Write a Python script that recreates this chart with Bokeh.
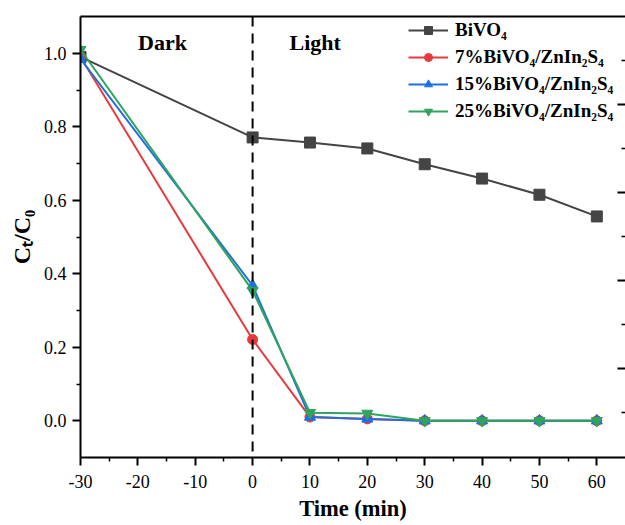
from bokeh.plotting import figure
from bokeh.models import (Span, Range1d, FixedTicker, PrintfTickFormatter, Legend,
                          LinearAxis, CustomJSTickFormatter)
from bokeh.core.properties import value
from bokeh.embed import file_html
from bokeh.resources import INLINE

time = [-30, 0, 10, 20, 30, 40, 50, 60]
bivo4 = [0.99, 0.771, 0.757, 0.741, 0.698, 0.659, 0.615, 0.556]
s7 = [0.99, 0.221, 0.010, 0.005, 0.0, 0.0, 0.0, 0.0]
s15 = [0.985, 0.368, 0.010, 0.005, 0.0, 0.0, 0.0, 0.0]
s25 = [1.01, 0.354, 0.022, 0.020, 0.0, 0.0, 0.0, 0.0]

labels = ["BiVO₄", "7%BiVO₄/ZnIn₂S₄", "15%BiVO₄/ZnIn₂S₄", "25%BiVO₄/ZnIn₂S₄"]
colors = ["#444444", "#e8393c", "#1f6fe3", "#2ea45c"]
x_ticks = [-30, -20, -10, 0, 10, 20, 30, 40, 50, 60]
x_minor = [-25, -15, -5, 5, 15, 25, 35, 45, 55]
y_ticks = [0.0, 0.2, 0.4, 0.6, 0.8, 1.0]
y_minor = [0.1, 0.3, 0.5, 0.7, 0.9]
# ticks of the neighbouring (cropped) axis seen at the right edge
r_ticks = [1, 2, 3, 4]
r_minor = [0.5, 1.5, 2.5, 3.5, 4.5]

FONT = "Liberation Serif"

p = figure(width=625, height=525, output_backend="svg", toolbar_location=None,
           x_range=Range1d(-30, 65), y_range=Range1d(-0.1, 1.1),
           min_border_left=80, min_border_right=0, min_border_top=16, min_border_bottom=68,
           title=None)
p.outline_line_color = None
p.xgrid.visible = False
p.ygrid.visible = False
p.background_fill_color = "white"
p.extra_y_ranges = {"r": Range1d(-0.01, 5.0)}

p.add_layout(Span(location=0, dimension="height", line_color="black",
                  line_dash="10 7", line_width=2))

series = [bivo4, s7, s15, s25]
markers = ["square", "circle", "triangle", "inverted_triangle"]
items = []
for ys, lab, c, m in zip(series, labels, colors, markers):
    l = p.line(time, ys, line_color=c, line_width=2)
    s = p.scatter(time, ys, marker=m, size=11 if m != "circle" else 10,
                  fill_color=c, line_color=c)
    items.append((lab, [l, s]))

leg = Legend(items=items, location=(328, 335))
leg.border_line_color = None
leg.background_fill_alpha = 0
leg.padding = 0
leg.margin = 0
leg.spacing = 5
leg.glyph_width = 40
leg.glyph_height = 20
leg.label_height = 20
leg.label_standoff = 7
leg.label_text_font = FONT
leg.label_text_font_style = "bold"
leg.label_text_font_size = "19px"
leg.label_text_color = "black"
p.add_layout(leg, "center")

p.text(x=[-15.7], y=[1.03], text=["Dark"], text_font=value(FONT), text_font_style="bold",
       text_font_size="22px", text_align="center", text_baseline="middle", text_color="black")
p.text(x=[10.9], y=[1.03], text=["Light"], text_font=value(FONT), text_font_style="bold",
       text_font_size="22px", text_align="center", text_baseline="middle", text_color="black")

xa = p.xaxis[0]
xa.ticker = FixedTicker(ticks=x_ticks, minor_ticks=x_minor)
xa.formatter = PrintfTickFormatter(format="%d")
xa.axis_label = "Time (min)"
ya = p.yaxis[0]
ya.ticker = FixedTicker(ticks=y_ticks, minor_ticks=y_minor)
ya.formatter = PrintfTickFormatter(format="%.1f")
ya.axis_label = "Cₜ/C₀"

for ax in (xa, ya):
    ax.axis_line_color = "black"
    ax.axis_line_width = 2
    ax.major_tick_line_color = "black"
    ax.minor_tick_line_color = "black"
    ax.major_tick_line_width = 2
    ax.minor_tick_line_width = 1.5
    ax.major_tick_out = 8
    ax.major_tick_in = 0
    ax.minor_tick_out = 4
    ax.minor_tick_in = 0
    ax.major_label_text_font = FONT
    ax.major_label_text_font_size = "18px"
    ax.major_label_text_color = "black"
    ax.axis_label_text_font = FONT
    ax.axis_label_text_font_style = "bold"
    ax.axis_label_text_color = "black"
xa.axis_label_text_font_size = "22.5px"
ya.axis_label_text_font_size = "24px"
xa.major_label_standoff = 9
xa.axis_label_standoff = 5
ya.major_label_standoff = 6
ya.axis_label_standoff = 6

blank = CustomJSTickFormatter(code="return ''")

top = LinearAxis(ticker=FixedTicker(ticks=[]), formatter=blank)
top.axis_line_color = "black"
top.axis_line_width = 2
top.major_tick_line_color = None
top.minor_tick_line_color = None
top.major_label_standoff = 0
top.major_label_text_font_size = "0px"
p.add_layout(top, "above")

right = LinearAxis(y_range_name="r", ticker=FixedTicker(ticks=r_ticks, minor_ticks=r_minor),
                   formatter=blank)
right.axis_line_color = None
right.major_tick_line_color = "black"
right.minor_tick_line_color = "black"
right.major_tick_line_width = 2
right.minor_tick_line_width = 1.5
right.major_tick_in = 8
right.major_tick_out = 0
right.minor_tick_in = 4
right.minor_tick_out = 0
right.major_label_standoff = 0
right.major_label_text_font_size = "0px"
p.add_layout(right, "right")

open("out.html", "w").write(file_html(p, INLINE))
